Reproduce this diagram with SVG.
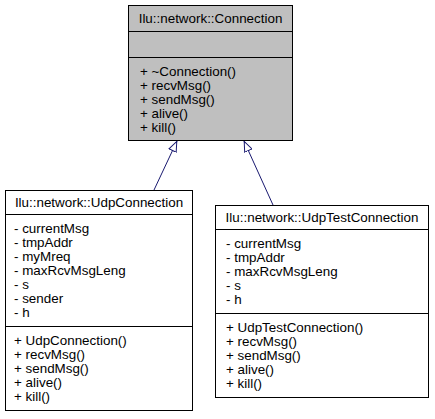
<svg xmlns="http://www.w3.org/2000/svg" width="435" height="419" viewBox="0 0 435 419">
<style>
text{font-family:"Liberation Sans",Arial,Helvetica,sans-serif;font-size:13.4px;fill:#000}
.t{text-anchor:middle}
.box{stroke:#000;stroke-width:1}
.base{fill:#bfbfbf}
.cls{fill:#fff}
.sep{stroke:#000;stroke-width:1}
.edge{fill:none;stroke:#191970;stroke-width:1;marker-end:url(#inh)}
</style>
<defs>
<marker id="inh" viewBox="0 0 11 9" refX="11" refY="4.5" markerUnits="userSpaceOnUse" markerWidth="11" markerHeight="9" orient="auto">
<path d="M0.5,0.5 L10.5,4.5 L0.5,8.5 Z" fill="#fff" stroke="#191970" stroke-width="1"/>
</marker>
</defs>
<rect width="435" height="419" fill="#fff"/>
<g id="connectors">
<path class="edge" d="M154,190 L177,141"/>
<path class="edge" d="M273,205 L244,141"/>
</g>
<g id="Connection">
<rect class="box base" x="128.5" y="5.5" width="164" height="135"/>
<line class="sep" x1="128.5" y1="31.5" x2="292.5" y2="31.5"/>
<line class="sep" x1="128.5" y1="57.5" x2="292.5" y2="57.5"/>
<text class="t" x="210.5" y="23">Ilu::network::Connection</text>
<text x="140" y="76">+ ~Connection()</text>
<text x="140" y="90">+ recvMsg()</text>
<text x="140" y="104">+ sendMsg()</text>
<text x="140" y="118">+ alive()</text>
<text x="140" y="132">+ kill()</text>
</g>
<g id="UdpConnection">
<rect class="box cls" x="5.5" y="190.5" width="187" height="220"/>
<line class="sep" x1="5.5" y1="214.5" x2="192.5" y2="214.5"/>
<line class="sep" x1="5.5" y1="326.5" x2="192.5" y2="326.5"/>
<text class="t" x="99" y="207">Ilu::network::UdpConnection</text>
<text x="14" y="233">- currentMsg</text>
<text x="14" y="247">- tmpAddr</text>
<text x="14" y="261">- myMreq</text>
<text x="14" y="275">- maxRcvMsgLeng</text>
<text x="14" y="289">- s</text>
<text x="14" y="303">- sender</text>
<text x="14" y="317">- h</text>
<text x="14" y="345">+ UdpConnection()</text>
<text x="14" y="359">+ recvMsg()</text>
<text x="14" y="373">+ sendMsg()</text>
<text x="14" y="387">+ alive()</text>
<text x="14" y="401">+ kill()</text>
</g>
<g id="UdpTestConnection">
<rect class="box cls" x="215.5" y="205.5" width="213" height="192"/>
<line class="sep" x1="215.5" y1="229.5" x2="428.5" y2="229.5"/>
<line class="sep" x1="215.5" y1="313.5" x2="428.5" y2="313.5"/>
<text class="t" x="322" y="222">Ilu::network::UdpTestConnection</text>
<text x="226" y="248">- currentMsg</text>
<text x="226" y="262">- tmpAddr</text>
<text x="226" y="276">- maxRcvMsgLeng</text>
<text x="226" y="290">- s</text>
<text x="226" y="304">- h</text>
<text x="226" y="332">+ UdpTestConnection()</text>
<text x="226" y="346">+ recvMsg()</text>
<text x="226" y="360">+ sendMsg()</text>
<text x="226" y="374">+ alive()</text>
<text x="226" y="388">+ kill()</text>
</g>
</svg>
